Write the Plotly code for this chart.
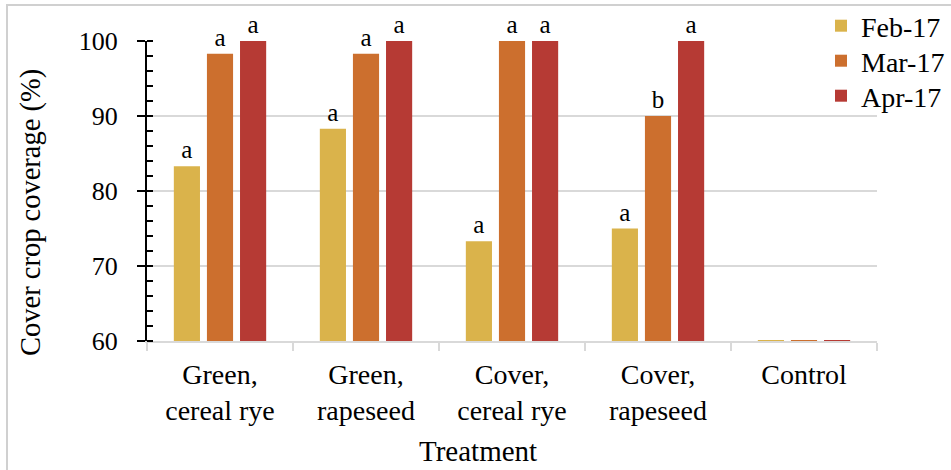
import plotly.graph_objects as go

categories = ["Green,<br>cereal rye", "Green,<br>rapeseed", "Cover,<br>cereal rye", "Cover,<br>rapeseed", "Control"]
series_names = ["Feb-17", "Mar-17", "Apr-17"]
feb = [83.3, 88.3, 73.3, 75.0, 60.15]
mar = [98.3, 98.3, 100.0, 90.0, 60.15]
apr = [100.0, 100.0, 100.0, 100.0, 60.15]
feb_letters = ["a", "a", "a", "a", ""]
mar_letters = ["a", "a", "a", "b", ""]
apr_letters = ["a", "a", "a", "a", ""]
colors = ["#DAB34B", "#CC6F2E", "#B63A34"]

FONT = "Liberation Serif"
legend_ids = ["legend", "legend2", "legend3"]
legend_tops = [1, 36, 71]  # pixel tops of each legend row

fig = go.Figure()
for name, vals, letters, col, lid in zip(series_names, [feb, mar, apr],
                                         [feb_letters, mar_letters, apr_letters], colors, legend_ids):
    fig.add_trace(go.Bar(
        x=categories, y=vals, name=name, legend=lid,
        marker=dict(color=col, line=dict(width=0)),
        text=letters, textposition="outside", cliponaxis=False,
        textfont=dict(family=FONT, size=25, color="black"),
        constraintext="none",
    ))

legend_common = dict(xref="container", yref="container", x=821 / 951,
                     xanchor="left", yanchor="top",
                     font=dict(family=FONT, size=28, color="black"),
                     bgcolor="rgba(0,0,0,0)", itemwidth=30)

fig.update_layout(
    width=951, height=470,
    margin=dict(l=147, r=74, t=41, b=129, autoexpand=False),
    paper_bgcolor="white", plot_bgcolor="white",
    font=dict(family=FONT, size=27, color="black"),
    barmode="group", bargap=0.32, bargroupgap=0.21,
    showlegend=True,
    legend=dict(legend_common, y=1 - legend_tops[0] / 470),
    legend2=dict(legend_common, y=1 - legend_tops[1] / 470),
    legend3=dict(legend_common, y=1 - legend_tops[2] / 470),
    xaxis=dict(showline=True, linecolor="#d9d9d9", linewidth=2,
               ticks="outside", tickson="boundaries", ticklen=8, tickcolor="#d9d9d9",
               tickwidth=2, showgrid=False, ticklabelstandoff=7,
               tickfont=dict(family=FONT, size=28)),
    yaxis=dict(range=[60, 100], dtick=10, tick0=60, showline=True, linecolor="black",
               linewidth=2, ticks="outside", ticklen=8, tickcolor="black", tickwidth=2,
               showgrid=True, gridcolor="#d9d9d9", gridwidth=2, zeroline=False,
               ticklabelstandoff=14,
               minor=dict(dtick=2, tick0=60, ticks="inside", ticklen=6, tickcolor="black",
                          tickwidth=2, showgrid=False),
               tickfont=dict(family=FONT, size=26)),
    yaxis2=dict(range=[60, 100], dtick=10, tick0=60, overlaying="y", side="left",
                anchor="x", showline=False, ticks="inside", ticklen=6, tickcolor="black",
                tickwidth=2, showticklabels=False, showgrid=False, zeroline=False),
)

fig.add_annotation(text="Cover crop coverage (%)", textangle=-90, showarrow=False,
                   xref="paper", yref="paper", x=(31 - 147) / 730, y=(341 - 212) / 300,
                   xanchor="center", yanchor="middle",
                   font=dict(family=FONT, size=28.5))
fig.add_annotation(text="Treatment", showarrow=False,
                   xref="paper", yref="paper", x=(478 - 147) / 730, y=(341 - 451) / 300,
                   xanchor="center", yanchor="middle",
                   font=dict(family=FONT, size=29))
fig.add_shape(type="rect", xref="paper", yref="paper",
              x0=(7 - 147) / 730, x1=1.3, y0=-0.6, y1=(341 - 5) / 300,
              line=dict(color="#d0d0d0", width=2), fillcolor="rgba(0,0,0,0)", layer="below")

fig.write_html("out.html")
